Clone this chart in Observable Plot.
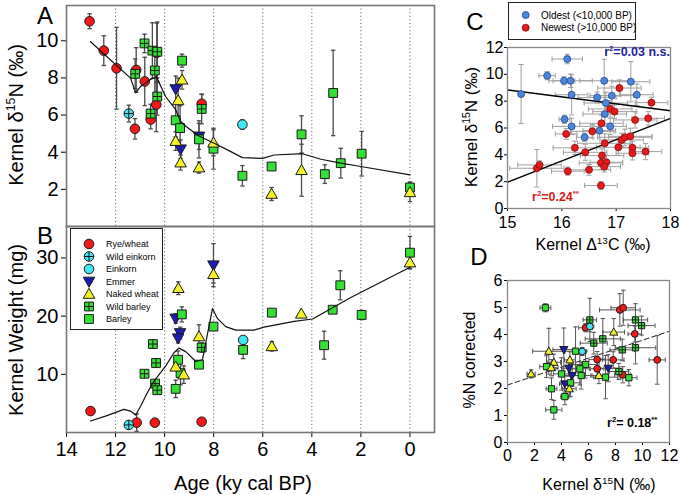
<!DOCTYPE html>
<html><head><meta charset="utf-8">
<script src="https://cdn.jsdelivr.net/npm/d3@7"></script>
<script src="https://cdn.jsdelivr.net/npm/@observablehq/plot@0.6"></script>
<style>
html,body{margin:0;padding:0;background:#fff;}
#wrap{position:relative;width:680px;height:495px;overflow:hidden;font-family:"Liberation Sans",Arial,sans-serif;color:#000;background:#fff;}
#wrap svg{position:absolute;background:transparent;overflow:visible;}
.lab{position:absolute;white-space:nowrap;line-height:1;transform-origin:center center;}
.lab sup{font-size:0.62em;vertical-align:0;position:relative;top:-0.62em;}
</style></head>
<body><div id="wrap"></div>
<script>
// ---------------- DATA ----------------
// Panels A & B: [age (ky cal BP), value, error]
const A_rye = [[13.06,11.05,0.4],[12.48,9.47,0.8],[11.96,8.52,2.2],[11.16,8.43,1.2],[11.21,5.26,0.55],[10.81,7.81,1.3],[10.57,5.76,0.5],[10.34,6.56,1.45],[10.32,9.35,1.6],[8.49,6.61,0.5]];
const A_wildEinkorn = [[11.46,6.08,0.45]];
const A_einkorn = [[6.83,5.49,0.25]];
const A_emmer = [[9.55,7.4,0.7],[9.35,4.16,0.5],[8.6,4.85,0.7]];
const A_naked = [[9.29,7.9,0.5],[9.45,6.79,1.2],[9.55,4.6,0.5],[9.35,3.44,0.4],[8.6,3.17,0.3],[8.01,4.51,0.7],[5.64,1.75,0.35],[4.42,3.03,1.4],[0,1.84,0.5]];
const A_wildBarley = [[10.82,9.86,0.5],[11.2,8.22,0.8],[10.5,9.47,1.5],[10.3,9.41,1.6],[10.4,8.4,1.2],[10.3,7.0,1.0],[10.57,6.08,0.5],[8.49,6.33,0.8]];
const A_barley = [[9.29,8.93,0.35],[9.55,5.72,0.9],[9.37,5.3,1.2],[8.6,4.69,1.0],[8.01,4.19,1.1],[6.83,2.73,0.55],[5.64,3.23,0],[4.42,4.96,1.0],[3.47,2.82,0.5],[3.13,7.19,2.3],[2.82,3.41,0.8],[1.97,3.92,1.2],[0,2.1,0.3]];
const A_trend = [[13.02,9.95],[11.39,7.99],[11.18,7.2],[10.98,7.54],[10.6,7.9],[10.34,8.07],[9.96,7.0],[9.55,6.29],[9.35,5.67],[9.14,5.4],[8.6,4.87],[8.0,4.5],[7.4,4.1],[6.83,3.71],[6.01,3.67],[5.54,3.85],[4.38,3.92],[3.63,3.62],[2.82,3.41],[2.0,3.23],[0,2.78]];

const B_rye = [[13.02,3.68,0],[11.14,1.69,1.5],[10.4,1.69,0],[8.49,1.86,0]];
const B_wildEinkorn = [[11.46,1.3,0]];
const B_einkorn = [[6.8,15.9,0]];
const B_emmer = [[8.01,28.75,3.7],[9.55,19.6,0.8],[9.37,17.1,1.0],[9.45,16.2,0.8]];
const B_naked = [[9.44,24.8,1.1],[8.6,16.5,2.0],[8.01,27.2,1.5],[9.55,11.3,0.6],[9.22,9.95,1.5],[5.63,14.8,0.8],[4.43,20.4,0],[0,29.2,1.0]];
const B_wildBarley = [[10.48,15.2,0],[10.35,11.95,0],[10.82,10.1,0],[10.39,8.4,0],[10.3,7.27,0],[8.49,14.6,0.8]];
const B_barley = [[9.3,20.3,1.3],[9.45,12.5,1.5],[9.35,10.2,2.0],[9.55,7.5,1.5],[8.6,11.66,0.6],[8.01,18.2,0],[6.8,14.2,1.5],[5.63,20.6,0.5],[3.5,15.0,2.4],[3.15,21.1,0.5],[2.84,25.3,2.5],[1.97,20.2,0.8],[0,30.9,2.8]];
const B_trend = [[13.02,1.97],[12.41,2.82],[11.66,3.97],[11.39,3.68],[11.18,3.0],[10.98,4.5],[10.71,6.8],[10.44,8.8],[9.96,11.4],[9.62,13.7],[9.42,14.5],[9.14,13.9],[8.73,12.2],[8.46,12.5],[8.05,21.3],[7.85,19.6],[7.51,18.2],[7.1,17.6],[6.36,17.6],[5.95,18.1],[4.72,19.1],[3.97,19.5],[2.41,23.2],[0,28.4]];

const ageTicks = [14,12,10,8,6,4,2,0];
const ageGrid = [12,10,8,6,4,2,0];
const aTicks = [2,4,6,8,10];
const bTicks = [10,20,30];

// Panel C: [Δ13C, δ15N, xerr, yerr]
const C_oldest = [[15.25,8.53,0,2.2],[15.73,9.9,0.15,0.3],[16.10,11.14,0.28,0.35],[16.04,9.52,0.2,0.3],[16.16,9.52,0.4,0.5],[16.18,8.48,0.3,1.5],[16.05,6.65,0.1,0.3],[16.18,6.12,0.35,0.6],[16.42,5.31,0.15,0.3],[16.65,8.28,0.35,0.4],[16.78,9.52,0.45,1.6],[16.81,7.86,0.4,0.8],[16.79,7.04,0.4,0.8],[16.69,5.80,0.3,0.5],[16.89,6.12,0.3,0.6],[16.92,8.41,0.4,0.7],[17.27,9.45,0.35,1.5],[17.38,8.48,0.3,0.8]];
const C_newest = [[15.54,3.00,0.5,1.4],[15.59,3.25,0.4,0.3],[16.08,5.56,0.2,0.4],[16.11,2.78,0.3,0.3],[16.24,4.52,0.4,0.5],[16.43,4.19,0.4,0.6],[16.50,2.88,0.4,0.4],[16.56,5.75,0.4,0.5],[16.73,6.35,0.4,0.6],[16.72,1.71,0.3,0.3],[16.74,3.94,0.4,0.5],[16.72,3.40,0.4,0.5],[16.82,3.45,0.3,0.5],[16.78,3.12,0.3,0.4],[16.79,4.86,0.5,0.7],[16.89,7.42,0.4,0.6],[16.97,7.22,0.4,0.5],[17.06,8.98,0.4,0.6],[17.04,4.56,0.4,0.6],[17.10,5.11,0.4,0.5],[17.16,5.31,0.5,0.6],[17.26,5.38,0.4,0.6],[17.30,4.52,0.3,0.5],[17.30,4.12,0.3,0.5],[17.35,6.60,0.4,0.6],[17.59,6.72,0.3,0.5],[17.54,4.24,0.3,0.6],[17.65,7.89,0.3,0.4]];
const C_fitOldest = [[15,8.83],[18,7.29]];
const C_fitNewest = [[15,1.96],[18,6.72]];
const cXTicks = [15,16,17,18];
const cYTicks = [0,2,4,6,8,10,12];

// Panel D: [δ15N, %N corrected, xerr, yerr]
const D_rye = [[5.78,4.25,0.5,0.15],[8.32,4.91,1.5,0.6],[8.57,4.99,0.9,0.65],[9.43,4.02,0.5,0.3],[11.09,3.06,0.6,0.9],[6.64,3.07,0.6,0.3],[7.83,3.06,0.8,0.3],[6.64,2.73,0.5,0.3],[8.54,2.51,0.6,0.3]];
const D_einkorn = [[6.1,4.3,0.3,0.2],[5.53,3.37,0.3,0.15]];
const D_emmer = [[4.17,3.44,0.8,0.8],[4.54,2.75,0.5,0.3],[7.46,2.75,0.8,0.5],[4.79,2.48,0.6,0.4],[4.25,2.17,0.4,0.3]];
const D_naked = [[7.87,4.09,0.8,0.5],[3.06,3.38,1.2,0.85],[4.62,3.06,0.4,0.3],[3.43,2.97,0.5,0.3],[3.24,2.77,0.5,0.3],[1.75,2.54,0.3,0.15],[6.77,2.48,0.6,0.3],[4.58,1.99,0.5,0.3]];
const D_wildBarley = [[6.1,4.54,0.5,0.8],[9.48,4.54,0.9,0.6],[9.93,4.33,1.0,0.35],[7.06,3.84,1.3,0.75],[6.39,3.68,1.0,0.4],[8.5,3.43,0.9,0.4],[9.48,3.51,1.5,0.6],[8.25,2.63,0.7,0.3]];
const D_barley = [[2.81,4.99,0.4,0.15],[5.04,3.38,0.8,0.9],[2.89,2.81,0.5,0.4],[5.78,2.89,1.0,0.5],[5.36,2.73,0.7,0.6],[4.0,2.54,0.6,0.6],[5.46,2.48,0.8,0.5],[7.26,2.42,0.9,0.8],[8.99,2.4,0.6,0.3],[4.67,2.21,0.7,0.5],[3.26,1.99,0.4,0.4],[4.25,1.7,0.3,0.3],[3.43,1.21,0.6,0.35]];
const D_fit = [[0,2.13],[12,4.12]];
const dXTicks = [0,2,4,6,8,10,12];
const dYTicks = [0,1,2,3,4,5,6];

const speciesNames = ["Rye/wheat","Wild einkorn","Einkorn","Emmer","Naked wheat","Wild barley","Barley"];
const groupNamesC = ["Oldest (<10,000 BP)","Newest (>10,000 BP)"];

// ---------------- SYMBOLS / STYLES ----------------
const mk = f => ({draw(ctx, size){ f(ctx, Math.sqrt(size/Math.PI)); }});
const SYM = {
  circle: mk((c,r)=>{c.moveTo(r,0);c.arc(0,0,r,0,2*Math.PI);c.closePath();}),
  circlePlus: mk((c,r)=>{c.moveTo(r,0);c.arc(0,0,r,0,2*Math.PI);c.closePath();c.moveTo(-r,0);c.lineTo(r,0);c.moveTo(0,-r);c.lineTo(0,r);}),
  square: mk((c,r)=>{const h=r*0.92;c.moveTo(-h,-h);c.lineTo(h,-h);c.lineTo(h,h);c.lineTo(-h,h);c.closePath();}),
  squareGrid: mk((c,r)=>{const h=r*0.92;c.moveTo(-h,-h);c.lineTo(h,-h);c.lineTo(h,h);c.lineTo(-h,h);c.closePath();c.moveTo(-h,0);c.lineTo(h,0);c.moveTo(0,-h);c.lineTo(0,h);}),
  triUp: mk((c,r)=>{const h=r*1.2;c.moveTo(0,-h);c.lineTo(h,h*0.75);c.lineTo(-h,h*0.75);c.closePath();}),
  triDown: mk((c,r)=>{const h=r*1.2;c.moveTo(0,h);c.lineTo(h,-h*0.75);c.lineTo(-h,-h*0.75);c.closePath();}),
  hcap: mk((c,r)=>{c.moveTo(-r,0);c.lineTo(r,0);}),
  vcap: mk((c,r)=>{c.moveTo(0,-r);c.lineTo(0,r);})
};
const GREEN="#33e033", RED="#f21818", CYAN="#44e4f0", NAVY="#1c1cb4", YEL="#f6f22a";
const speciesStyle = [
  {fill:RED, sym:SYM.circle},
  {fill:CYAN, sym:SYM.circlePlus},
  {fill:CYAN, sym:SYM.circle},
  {fill:NAVY, sym:SYM.triDown},
  {fill:YEL, sym:SYM.triUp},
  {fill:GREEN, sym:SYM.squareGrid},
  {fill:GREEN, sym:SYM.square}
];
const drawOrder = [0,1,2,3,6,5,4];
const FONT = "'Liberation Sans', Arial, sans-serif";
const fmt = d => String(d);

function vErr(data, color, capR, sw){
  const k = d => d.length===3 ? d[2] : d[3];
  const e = data.filter(d=>k(d)>0);
  return [
    Plot.ruleX(e,{x:d=>d[0],y1:d=>d[1]-k(d),y2:d=>d[1]+k(d),stroke:color,strokeWidth:sw}),
    Plot.dot(e,{x:d=>d[0],y:d=>d[1]+k(d),symbol:SYM.hcap,r:capR,stroke:color,strokeWidth:sw}),
    Plot.dot(e,{x:d=>d[0],y:d=>d[1]-k(d),symbol:SYM.hcap,r:capR,stroke:color,strokeWidth:sw})
  ];
}
function hErr(data, color, capR, sw){
  const e = data.filter(d=>d[2]>0);
  return [
    Plot.ruleY(e,{y:d=>d[1],x1:d=>d[0]-d[2],x2:d=>d[0]+d[2],stroke:color,strokeWidth:sw}),
    Plot.dot(e,{y:d=>d[1],x:d=>d[0]+d[2],symbol:SYM.vcap,r:capR,stroke:color,strokeWidth:sw}),
    Plot.dot(e,{y:d=>d[1],x:d=>d[0]-d[2],symbol:SYM.vcap,r:capR,stroke:color,strokeWidth:sw})
  ];
}
function speciesMarks(list, r, capR, errColor, both){
  const marks = [];
  list.forEach(data=>{ if(both) marks.push(...hErr(data, errColor, capR, 1)); marks.push(...vErr(data, errColor, capR, both?1:1.3)); });
  drawOrder.forEach(i=>{ if(list[i].length) marks.push(Plot.dot(list[i],{x:d=>d[0],y:d=>d[1],r,symbol:speciesStyle[i].sym,fill:speciesStyle[i].fill,stroke:"#1a1a1a",strokeWidth:1})); });
  return marks;
}

const wrap = document.getElementById("wrap");
function place(svg, left, top){ svg.style.left=left+"px"; svg.style.top=top+"px"; svg.style.position="absolute"; svg.style.background="transparent"; svg.style.overflow="visible"; wrap.appendChild(svg); }
const gridMark = () => Plot.ruleX(ageGrid,{x:d=>d,stroke:"#555",strokeWidth:1,strokeDasharray:"1,2.6"});

// ---------------- PANEL A ----------------
const plotA = Plot.plot({
  width:440, height:228, marginLeft:66, marginRight:6, marginTop:5, marginBottom:2,
  style:{fontFamily:FONT, fontSize:"20px", background:"transparent", overflow:"visible"},
  x:{domain:[14,-1], axis:null}, y:{domain:[0,11.9]},
  marks:[
    gridMark(),
    Plot.axisY({ticks:aTicks, tickSize:5, tickPadding:3, tickFormat:fmt, label:null}),
    ...speciesMarks([A_rye,A_wildEinkorn,A_einkorn,A_emmer,A_naked,A_wildBarley,A_barley], 4.8, 2.2, "#4a4a4a", false),
    Plot.line(A_trend,{x:d=>d[0],y:d=>d[1],stroke:"#111",strokeWidth:1.2}),
    Plot.frame({stroke:"#777",strokeWidth:1.6})
  ]
});
place(plotA,0,0);

// ---------------- PANEL B ----------------
const plotB = Plot.plot({
  width:440, height:250, marginLeft:66, marginRight:6, marginTop:2, marginBottom:42,
  style:{fontFamily:FONT, fontSize:"20px", background:"transparent", overflow:"visible"},
  x:{domain:[14,-1]}, y:{domain:[0,35.4]},
  marks:[
    gridMark(),
    Plot.axisX({ticks:ageTicks, tickSize:5, tickPadding:4, tickFormat:fmt, label:null}),
    Plot.axisY({ticks:bTicks, tickSize:5, tickPadding:3, tickFormat:fmt, label:null}),
    ...speciesMarks([B_rye,B_wildEinkorn,B_einkorn,B_emmer,B_naked,B_wildBarley,B_barley], 4.8, 2.2, "#4a4a4a", false),
    Plot.line(B_trend,{x:d=>d[0],y:d=>d[1],stroke:"#111",strokeWidth:1.2}),
    Plot.frame({stroke:"#777",strokeWidth:1.6})
  ]
});
place(plotB,0,224);

// ---------------- PANEL C ----------------
const plotC = Plot.plot({
  width:220, height:193, marginLeft:47, marginRight:10, marginTop:7, marginBottom:25,
  style:{fontFamily:FONT, fontSize:"16px", background:"transparent", overflow:"visible"},
  x:{domain:[15,18]}, y:{domain:[0,12]},
  marks:[
    Plot.axisX({ticks:cXTicks, tickSize:3, tickPadding:5, tickFormat:fmt, label:null}),
    Plot.axisY({ticks:cYTicks, tickSize:3, tickPadding:1, tickFormat:fmt, label:null}),
    ...hErr(C_oldest,"#a0a0a0",2.6,1), ...vErr(C_oldest,"#a0a0a0",2.6,1),
    ...hErr(C_newest,"#a0a0a0",2.6,1), ...vErr(C_newest,"#a0a0a0",2.6,1),
    Plot.line(C_fitOldest,{x:d=>d[0],y:d=>d[1],stroke:"#000",strokeWidth:1.5}),
    Plot.line(C_fitNewest,{x:d=>d[0],y:d=>d[1],stroke:"#000",strokeWidth:1.5}),
    Plot.dot(C_oldest,{x:d=>d[0],y:d=>d[1],r:3.5,fill:"#4a86dc",stroke:"#23468f",strokeWidth:0.8}),
    Plot.dot(C_newest,{x:d=>d[0],y:d=>d[1],r:3.5,fill:"#e51a1a",stroke:"#8a0b0b",strokeWidth:0.8}),
    Plot.frame({stroke:"#888",strokeWidth:1.3})
  ]
});
place(plotC,460,40);

// ---------------- PANEL D ----------------
const plotD = Plot.plot({
  width:220, height:194, marginLeft:47, marginRight:11, marginTop:7, marginBottom:25,
  style:{fontFamily:FONT, fontSize:"16px", background:"transparent", overflow:"visible"},
  x:{domain:[0,12]}, y:{domain:[0,6]},
  marks:[
    Plot.axisX({ticks:dXTicks, tickSize:3, tickPadding:4, tickFormat:fmt, label:null}),
    Plot.axisY({ticks:dYTicks, tickSize:3, tickPadding:2, tickFormat:fmt, label:null}),
    Plot.line(D_fit,{x:d=>d[0],y:d=>d[1],stroke:"#222",strokeWidth:1,strokeDasharray:"5,3"}),
    ...speciesMarks([D_rye,[],D_einkorn,D_emmer,D_naked,D_wildBarley,D_barley], 3.4, 2.3, "#555", true),
    Plot.frame({stroke:"#888",strokeWidth:1.3})
  ]
});
place(plotD,460,273);

// ---------------- LEGENDS (overlay) ----------------
const ov = d3.select(wrap).append("svg").attr("width",680).attr("height",495).style("left","0px").style("top","0px").style("font-family",FONT);
ov.append("rect").attr("x",70.5).attr("y",228.5).attr("width",92).attr("height",101).attr("fill","#fff").attr("stroke","#222").attr("stroke-width",1);
speciesNames.forEach((name,i)=>{
  const y = 244 + i*12.5;
  ov.append("path").attr("transform",`translate(89,${y})`).attr("d", d3.symbol(speciesStyle[i].sym, Math.PI*4.8*4.8)()).attr("fill",speciesStyle[i].fill).attr("stroke","#1a1a1a");
  ov.append("text").attr("x",106).attr("y",y).attr("dy","0.35em").attr("font-size",9).text(name);
});
ov.append("rect").attr("x",508.5).attr("y",2.5).attr("width",127).attr("height",37).attr("fill","#fff").attr("stroke","#222").attr("stroke-width",1);
[["#4a86dc","#23468f"],["#e51a1a","#8a0b0b"]].forEach((c,i)=>{
  const y = 15 + i*12.7;
  ov.append("circle").attr("cx",525.7).attr("cy",y).attr("r",3.5).attr("fill",c[0]).attr("stroke",c[1]).attr("stroke-width",0.8);
  ov.append("text").attr("x",541).attr("y",y).attr("dy","0.35em").attr("font-size",10).text(groupNamesC[i]);
});

// ---------------- TEXT LABELS ----------------
function addLabel(html, x, y, size, o={}){
  const d=document.createElement("div"); d.className="lab"; d.innerHTML=html;
  d.style.left=x+"px"; d.style.top=y+"px"; d.style.fontSize=size+"px";
  const tx = o.anchor==="right" ? "-100%" : o.anchor==="left" ? "0" : "-50%";
  d.style.transform=`translate(${tx},-50%)` + (o.rot?` rotate(${o.rot}deg)`:"");
  if(o.bold) d.style.fontWeight="bold";
  if(o.color) d.style.color=o.color;
  wrap.appendChild(d);
}
addLabel("A",45,16,24);
addLabel("B",45,236,24);
addLabel("C",475,22,24);
addLabel("D",479,257,24);
addLabel("Kernel δ<sup>15</sup>N (‰)",16,115,20,{rot:-90});
addLabel("Kernel Weight (mg)",16,330,20,{rot:-90});
addLabel("Age (ky cal BP)",243,483,20);
addLabel("Kernel δ<sup>15</sup>N (‰)",471,127,17,{rot:-90});
addLabel("Kernel Δ<sup>13</sup>C (‰)",593,245,16);
addLabel("%N corrected",470,360,16,{rot:-90});
addLabel("Kernel δ<sup>15</sup>N (‰)",599,485,16);
addLabel("r<sup>2</sup>=0.03 n.s.",670,52,12.5,{anchor:"right",bold:true,color:"#22229e"});
addLabel("r<sup>2</sup>=0.24<sup>**</sup>",532,197,12.5,{anchor:"left",bold:true,color:"#d41c1c"});
addLabel("r<sup>2</sup>= 0.18<sup>**</sup>",607,423,12.5,{anchor:"left",bold:true});
</script></body></html>
